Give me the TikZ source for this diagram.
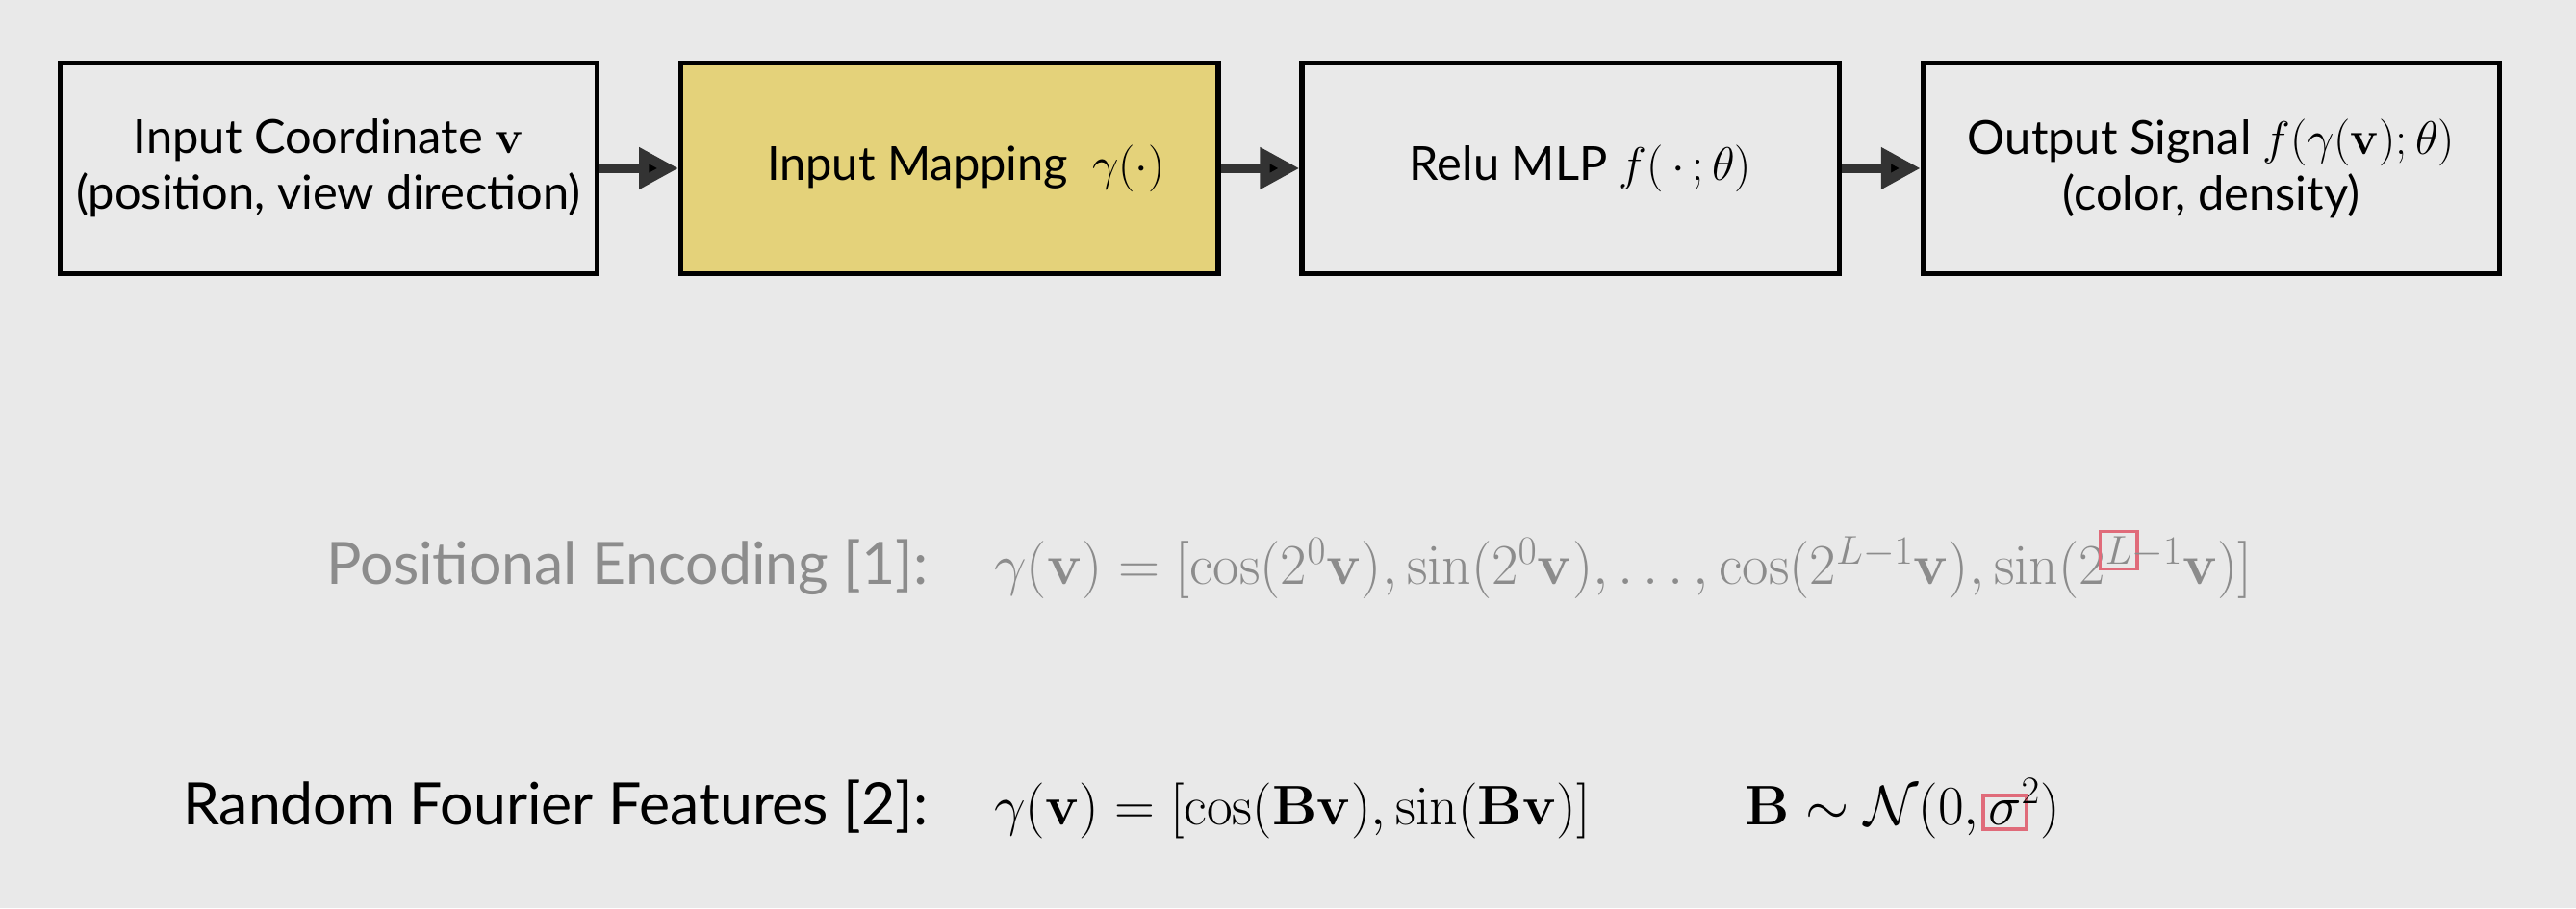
\RequirePackage{fix-cm}
\documentclass[tikz,border=0pt]{standalone}
\usepackage{amssymb,amsfonts}
\usepackage[no-math]{fontspec}
\setmainfont{Lato}
\usetikzlibrary{positioning,arrows.meta}

\definecolor{slidebg}{HTML}{E9E9E9}
\definecolor{mapyellow}{HTML}{E4D27A}
\definecolor{fadegrey}{HTML}{8C8C8C}
\definecolor{arrowgrey}{HTML}{333333}
\definecolor{markred}{HTML}{E06B7A}

% red frame laid over a symbol, without moving it
\newcommand{\markit}[1]{\mathpalette\markitaux{#1}}
\newcommand{\markitaux}[2]{\kern-4pt\rlap{\color{markred}\fboxsep=2pt\fboxrule=2pt\fbox{$\mathsurround=0pt#1\phantom{#2}$}}\kern4pt#2}

\tikzset{
  block/.style={draw, line width=3pt, minimum width=327pt, minimum height=128pt,
    align=center, inner sep=0pt, font=\fontsize{28.6}{34}\selectfont},
  flow/.style={line width=6pt, draw=arrowgrey, -{Triangle[length=24pt,width=24pt]}},
  tag/.style={font=\fontsize{35.6}{42}\selectfont, inner sep=0pt}
}

\begin{document}
\begin{tikzpicture}[x=1pt, y=-1pt]
\fill[slidebg] (0,0) rectangle (1568,553);
\useasboundingbox (0,0) rectangle (1568,553);

\node[block] (coord) at (200,102.5) {Input Coordinate $\mathbf{v}$\\(position, view direction)};
\node[block, fill=mapyellow, right=48pt of coord] (mapping) {\hspace*{20pt}Input Mapping\ \ $\gamma(\cdot)$};
\node[block, right=48pt of mapping] (mlp) {\hspace*{12pt}Relu MLP $f(\,\cdot\,;\theta)$};
\node[block, minimum width=351pt, right=48pt of mlp] (output) {Output Signal $f(\gamma(\mathbf{v});\theta)$\\(color, density)};

\path[flow]
(coord) edge (mapping)
(mapping) edge (mlp)
(mlp) edge (output);

\node[tag, text=fadegrey, anchor=base east] (pe) at (565,356) {Positional Encoding [1]:};
\node[tag, text=fadegrey, anchor=base west, font=\fontsize{35}{42}\selectfont] (pef) at (605,356)
  {$\gamma(\mathbf{v}) = \Bigl[\cos\bigl(2^0\mathbf{v}\bigr), \sin\bigl(2^0\mathbf{v}\bigr), \ldots, \cos\bigl(2^{L-1}\mathbf{v}\bigr), \sin\bigl(2^{\markit{L}-1}\mathbf{v}\bigr)\Bigr]$};

\node[tag, anchor=base east] (rff) at (565,502) {Random Fourier Features [2]:};
\node[tag, anchor=base west, font=\fontsize{34}{40}\selectfont] (rfff) at (605,502)
  {$\gamma(\mathbf{v}) = [\cos\bigl(\mathbf{B}\mathbf{v}\bigr), \sin\bigl(\mathbf{B}\mathbf{v}\bigr)]$};
\node[tag, anchor=base west, font=\fontsize{34}{40}\selectfont] (dist) at (1062,502)
  {$\mathbf{B} \sim \mathcal{N}(0,{\markit{\sigma}}^2)$};
\end{tikzpicture}
\end{document}
